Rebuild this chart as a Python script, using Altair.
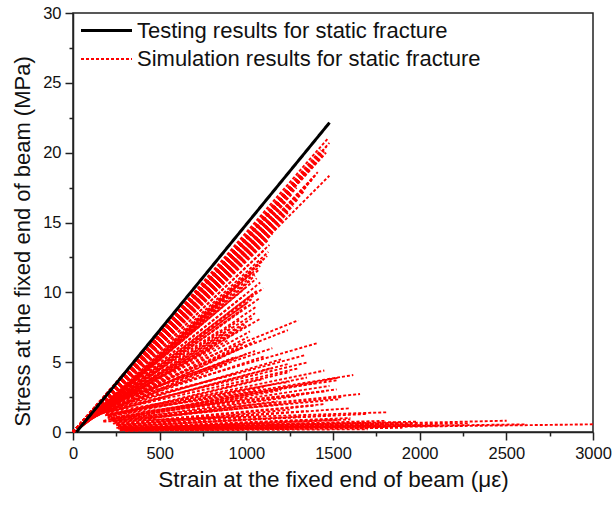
import altair as alt
import pandas as pd

# Testing result (black solid line)
test_x = [20, 1480]
test_y = [0.0, 22.15]

# Simulation segments: start strain / start stress / end strain / end stress
sim_x0 = [
    # upper fan (from origin)
    0, 0, 0, 0, 0, 0, 0, 0, 0, 0, 0, 0, 0, 0, 0, 0, 0, 0, 0, 0, 0, 0, 0,
    0, 0, 0, 0, 0, 0, 0, 0, 0, 0, 0, 0, 0, 0, 0, 0,
    0, 0, 0, 0, 0, 0, 0, 0,
    # middle fan
    30, 40, 50, 60, 60, 70, 70, 80, 80, 90, 90, 100, 110, 100, 110, 120, 120, 130,
    30, 35, 40, 45, 50, 55, 60, 65, 70, 75, 80, 85, 90, 95, 100, 105, 110, 115, 120, 125,
    60, 65, 70, 75, 80,
    # lower fan
    150, 160, 170, 175, 180, 180, 185, 190, 175, 200, 210, 220, 175,
    250, 260, 270, 270, 280, 270,
    190, 200, 210, 200, 220, 230, 240, 230, 250, 260, 260, 270, 270, 280, 280, 290, 300, 280,
    120, 130, 140, 110, 100, 120,
    160, 180, 190, 200, 210, 220, 230, 240, 250, 250, 260, 270, 280, 280, 290, 290, 300, 300, 310,
    210, 220, 240, 250, 260, 200, 190, 170, 230, 270, 280, 290,
]
sim_y0 = [
    0, 0, 0, 0, 0, 0, 0, 0, 0, 0, 0, 0, 0, 0, 0, 0, 0, 0, 0, 0, 0, 0, 0,
    0, 0, 0, 0, 0, 0, 0, 0, 0, 0, 0, 0, 0, 0, 0, 0,
    0, 0, 0, 0, 0, 0, 0, 0,
    0.3, 0.4, 0.5, 0.6, 0.6, 0.7, 0.7, 0.8, 0.8, 0.9, 0.9, 1.0, 1.1, 1.0, 1.1, 1.2, 1.2, 1.3,
    0.2, 0.25, 0.3, 0.35, 0.4, 0.45, 0.5, 0.55, 0.6, 0.65, 0.7, 0.75, 0.8, 0.85, 0.9, 0.95, 1.0, 1.05, 1.1, 1.15,
    0.5, 0.55, 0.6, 0.65, 0.7,
    2.2, 2.0, 1.9, 1.6, 1.5, 1.4, 1.2, 1.3, 0.8, 1.0, 0.9, 0.8, 0.75,
    0.3, 0.25, 0.2, 0.15, 0.15, 0.12,
    1.5, 1.4, 1.2, 1.1, 1.0, 0.8, 0.7, 0.6, 0.5, 0.45, 0.4, 0.35, 0.3, 0.3, 0.25, 0.2, 0.2, 0.2,
    1.5, 1.6, 1.8, 1.4, 1.2, 1.3,
    1.9, 1.6, 1.4, 1.2, 1.1, 0.9, 0.8, 0.7, 0.6, 0.5, 0.4, 0.3, 0.25, 0.2, 0.15, 0.15, 0.1, 0.1, 0.1,
    1.3, 1.0, 0.8, 0.6, 0.5, 1.2, 1.4, 1.7, 0.9, 0.4, 0.3, 0.25,
]
sim_x1 = [
    1469, 1479, 1463, 1479, 1412, 1400, 1388, 1375, 1450, 1420, 1380, 1340, 1300,
    1350, 1330, 1300, 1270, 1240, 1210, 1180, 1150, 1133, 1127,
    1460, 1440, 1430, 1400, 1360, 1320, 1290, 1260, 1230, 1200, 1170, 1140, 1120, 1100, 1130, 1110,
    1000, 900, 800, 1050, 950, 850, 700, 750,
    1100, 1080, 1031, 1060, 1098, 1079, 1040, 1010, 980, 1079, 1050, 1021, 1002, 960, 920, 900, 870, 980,
    1120, 1090, 1070, 1050, 1020, 1000, 1080, 1060, 1030, 1000, 970, 1060, 1040, 990, 950, 1010, 970, 940, 900, 1050,
    950, 900, 850, 800, 750,
    1300, 1240, 1406, 1338, 1358, 1300, 1617, 1521, 1536, 1521, 1656, 1531, 1810,
    1887, 1983, 2290, 2502, 2617, 3000,
    1200, 1150, 1250, 1100, 1400, 1200, 1300, 1180, 1400, 1250, 1500, 1600, 1530, 1700, 1950, 2100, 1600, 1800,
    950, 900, 1050, 1000, 850, 800,
    1150, 1100, 1250, 1450, 1350, 1480, 1380, 1550, 1450, 1600, 1700, 1500, 1800, 1400, 2000, 1550, 1900, 1300, 1700,
    1100, 1000, 1200, 1350, 1100, 1450, 1250, 950, 1050, 1300, 1150, 1600,
]
sim_y1 = [
    21.0, 20.7, 20.45, 18.35, 18.6, 18.4, 18.2, 18.0, 20.1, 19.6, 19.1, 18.6, 18.0,
    17.6, 17.2, 16.7, 16.2, 15.7, 15.2, 14.7, 14.2, 13.4, 12.9,
    20.0, 19.8, 20.2, 19.3, 18.8, 18.3, 17.5, 17.0, 16.5, 16.0, 15.5, 14.9, 14.4, 14.0, 13.8, 13.1,
    13.8, 12.5, 11.2, 13.6, 12.9, 11.8, 9.9, 10.6,
    12.4, 11.9, 11.4, 11.0, 10.3, 9.6, 9.9, 9.3, 9.7, 8.1, 8.5, 7.2, 5.6, 8.0, 7.5, 6.6, 7.0, 6.3,
    12.6, 12.2, 11.6, 11.2, 10.8, 10.4, 10.7, 10.1, 9.5, 9.0, 8.7, 9.0, 8.2, 7.7, 7.2, 6.8, 6.0, 5.4, 4.9, 6.5,
    10.5, 9.8, 9.2, 8.5, 7.8,
    8.0, 7.3, 6.35, 5.5, 5.0, 4.56, 4.08, 3.7, 3.9, 3.05, 2.72, 2.34, 1.41,
    0.67, 0.74, 0.62, 0.81, 0.55, 0.55,
    5.2, 4.6, 4.3, 3.8, 3.5, 3.0, 2.6, 2.2, 1.9, 1.6, 1.2, 1.0, 0.85, 0.7, 0.55, 0.45, 0.5, 0.35,
    6.0, 5.2, 5.8, 7.6, 7.3, 6.0,
    6.0, 5.4, 4.9, 4.4, 3.9, 3.3, 2.8, 2.5, 2.0, 1.7, 1.3, 0.9, 0.8, 0.6, 0.5, 0.4, 0.3, 0.25, 0.2,
    3.2, 2.5, 2.0, 1.5, 1.1, 2.9, 3.6, 4.2, 2.9, 1.1, 0.6, 0.9,
]

series_names = ["Testing results for static fracture", "Simulation results for static fracture"]

rows = []
for a, b, c, d in zip(sim_x0, sim_y0, sim_x1, sim_y1):
    rows.append({"x0": a, "y0": b, "x1": c, "y1": d, "series": series_names[1], "o": 0})
rows.append({"x0": test_x[0], "y0": test_y[0], "x1": test_x[1], "y1": test_y[1],
             "series": series_names[0], "o": 1})
df = pd.DataFrame(rows)

font = "Liberation Sans"

x_ticks = [i * 250 for i in range(13)]
y_ticks = [i * 2.5 for i in range(13)]


def make_legend():
    return alt.Legend(title=None, orient="none", legendX=19, legendY=3,
                      symbolType="M-2,0H2", symbolSize=650,
                      labelFont=font, labelFontSize=22, labelColor="#111",
                      labelLimit=0, labelOffset=16, rowPadding=3, padding=0)


chart = alt.Chart(df).mark_rule().encode(
    x=alt.X("x0:Q",
            scale=alt.Scale(domain=[0, 3000], nice=False, zero=False),
            axis=alt.Axis(title="Strain at the fixed end of beam (\u03bc\u03b5)",
                          values=x_ticks,
                          labelExpr="datum.value % 500 === 0 ? datum.label : ''",
                          format="d",
                          grid=False,
                          tickSize={"condition": {"test": "datum.value % 500 !== 0", "value": 4}, "value": 8},
                          tickWidth=1.5, tickColor="#222", domainColor="#222", domainWidth=1.5,
                          labelFont=font, labelFontSize=16.5, labelColor="#111",
                          labelPadding=5, labelFlush=False, labelOverlap=False,
                          titleFont=font, titleFontSize=22.5, titleFontWeight="normal",
                          titleColor="#111", titleY=36, titleBaseline="top")),
    y=alt.Y("y0:Q",
            scale=alt.Scale(domain=[0, 30], nice=False, zero=False),
            axis=alt.Axis(title="Stress at the fixed end of beam (MPa)",
                          values=y_ticks,
                          labelExpr="datum.value % 5 === 0 ? datum.label : ''",
                          format="d",
                          grid=False,
                          tickSize={"condition": {"test": "datum.value % 5 !== 0", "value": 4}, "value": 8},
                          tickWidth=1.5, tickColor="#222", domainColor="#222", domainWidth=1.5,
                          labelFont=font, labelFontSize=16.5, labelColor="#111",
                          labelPadding=4, labelFlush=False, labelOverlap=False,
                          titleFont=font, titleFontSize=22, titleFontWeight="normal",
                          titleColor="#111", titleX=-51, titleY=228, titleBaseline="middle")),
    x2="x1:Q",
    y2="y1:Q",
    color=alt.Color("series:N",
                    scale=alt.Scale(domain=series_names, range=["#000000", "#ff0000"]),
                    legend=make_legend()),
    strokeDash=alt.StrokeDash("series:N",
                              scale=alt.Scale(domain=series_names, range=[[1, 0], [3, 2]]),
                              legend=make_legend()),
    strokeWidth=alt.StrokeWidth("series:N",
                                scale=alt.Scale(domain=series_names, range=[3, 1.9]),
                                legend=make_legend()),
    order=alt.Order("o:Q"),
).properties(
    width=520,
    height=419,
    autosize=alt.AutoSizeParams(type="none"),
    padding={"left": 73, "top": 13, "right": 20, "bottom": 73},
    background="white",
).configure_view(
    stroke="#222", strokeWidth=1.5
)

chart.save("out.html", embed_options={"renderer": "svg", "actions": False})
